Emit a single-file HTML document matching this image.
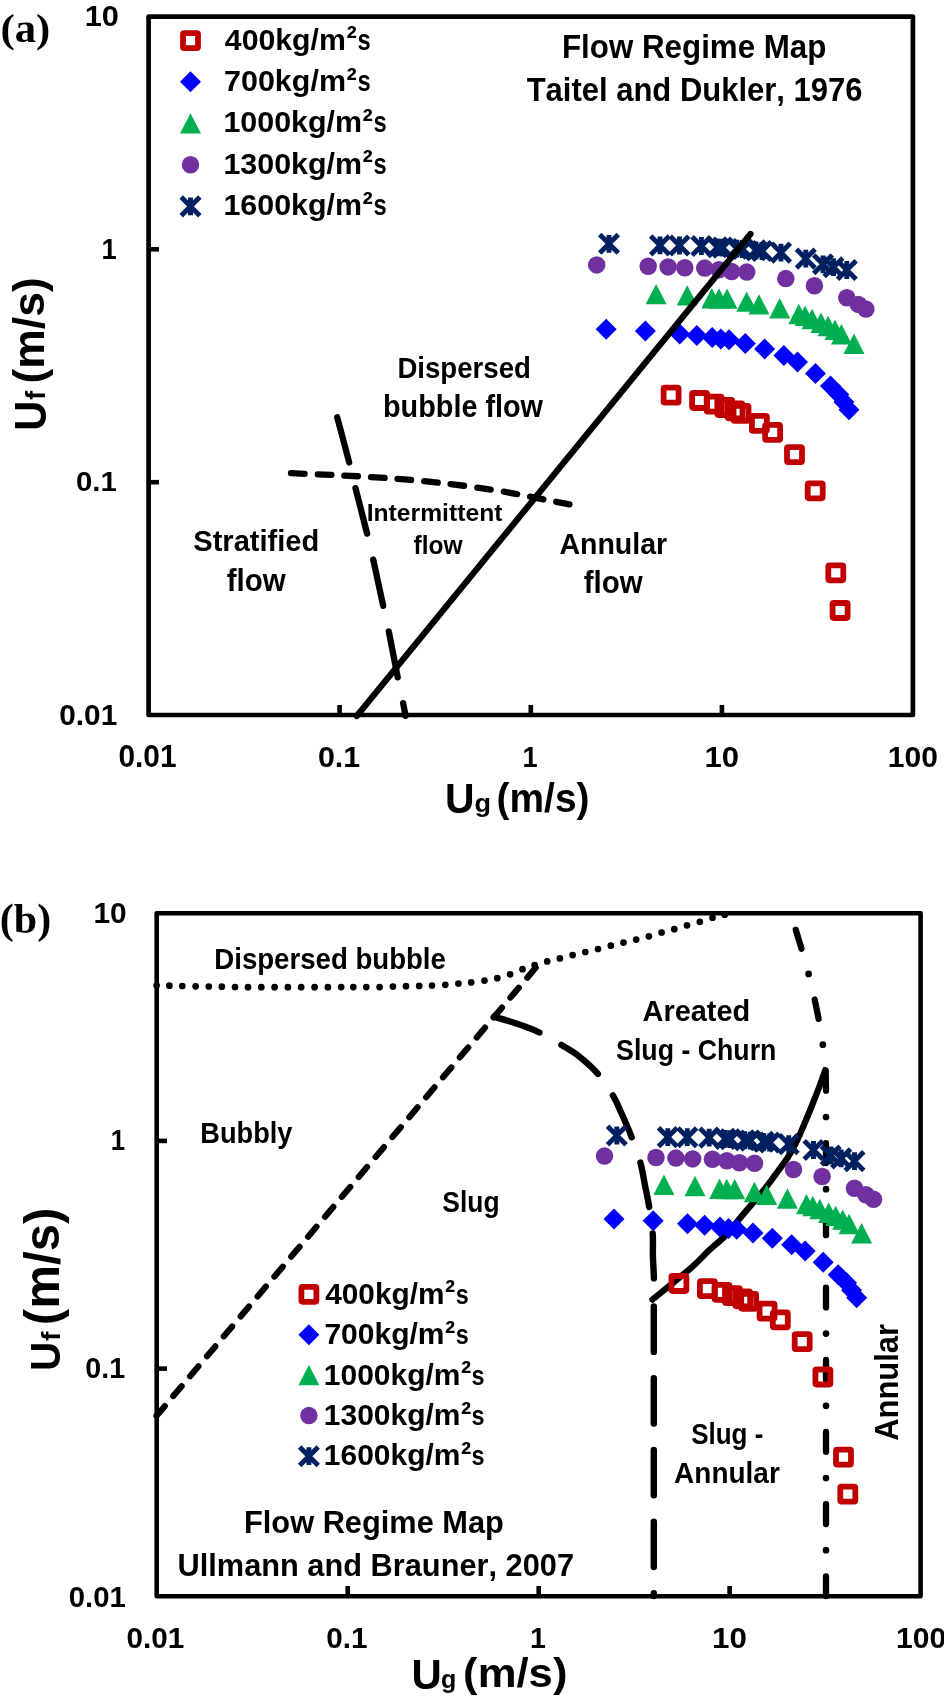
<!DOCTYPE html>
<html><head><meta charset="utf-8"><style>
html,body{margin:0;padding:0;background:#fff;}
svg{display:block;-webkit-font-smoothing:antialiased;will-change:transform;}
text{font-family:"Liberation Sans", sans-serif;font-weight:bold;fill:#000;font-kerning:none;}
</style></head><body>
<svg width="944" height="1703" viewBox="0 0 944 1703">

<defs>
<rect id="msq" x="-7.5" y="-7.5" width="15" height="15" rx="1.2" fill="none" stroke="#C00000" stroke-width="5.8"/>
<path id="mdi" d="M0,-10.5 L10.5,0 L0,10.5 L-10.5,0Z" fill="#0000FF"/>
<path id="mtr" d="M0,-10.2 L10.5,10.2 L-10.5,10.2Z" fill="#00B050"/>
<circle id="mci" r="8.75" fill="#7030A0"/>
<path id="mst" d="M-9.3,-9.3 L9.3,9.3 M9.3,-9.3 L-9.3,9.3 M0,-8.9 L0,8.9" stroke="#002060" stroke-width="4.9" fill="none"/>
</defs>

<g id="pa">
<rect x="148.6" y="16.6" width="764.3" height="698.4" fill="none" stroke="#000" stroke-width="4.7" stroke-linejoin="round"/>
<line x1="339.6" y1="715" x2="339.6" y2="705" stroke="#000" stroke-width="4.6"/>
<line x1="530.8" y1="715" x2="530.8" y2="705" stroke="#000" stroke-width="4.6"/>
<line x1="721.9" y1="715" x2="721.9" y2="705" stroke="#000" stroke-width="4.6"/>
<line x1="148.5" y1="249.3" x2="159" y2="249.3" stroke="#000" stroke-width="4.6"/>
<line x1="148.5" y1="482.2" x2="159" y2="482.2" stroke="#000" stroke-width="4.6"/>
<path d="M337.2,417.2 C339.2,424.75 346.15,450.68 349.2,462.5 M355.5,488.1 C358.48,499.95 364.15,521.7 367.1,533.6 M373.2,559.5 C375.88,571.55 380.6,593.92 383.2,605.9 M388.8,631.4 C391.22,643.3 395.32,665.33 397.7,677.3 M403.1,703.2 C404.42,709.65 405.18,713.87 405.6,716" fill="none" stroke="#000" stroke-width="6.3" stroke-linecap="round"/>
<path d="M291.01,473.22 L304.59,473.78 M317.81,474.29 L331.39,474.91 M344.31,475.53 L357.89,476.27 M371.01,477.05 L384.59,477.95 M397.52,478.84 L411.08,479.96 M424.24,481.2 L437.76,482.6 M450.55,484.05 L464.05,485.75 M477.28,487.59 L490.72,489.61 M503.71,491.71 L517.09,494.09 M530.03,496.7 L543.37,499.3 M556.13,501.8 L569.47,504.4" fill="none" stroke="#000" stroke-width="6.3" stroke-linecap="round"/>
<use href="#msq" x="671.1" y="395.1"/>
<use href="#msq" x="699.6" y="400.5"/>
<use href="#msq" x="714.2" y="404.1"/>
<use href="#msq" x="724.8" y="407.5"/>
<use href="#msq" x="735" y="410.8"/>
<use href="#msq" x="741" y="413.4"/>
<use href="#msq" x="759.4" y="423.4"/>
<use href="#msq" x="772.6" y="432.4"/>
<use href="#msq" x="794.5" y="454.6"/>
<use href="#msq" x="815.2" y="490.8"/>
<use href="#msq" x="835.8" y="572.8"/>
<use href="#msq" x="840.1" y="610.5"/>
<use href="#mdi" x="606.2" y="329.3"/>
<use href="#mdi" x="645.4" y="331"/>
<use href="#mdi" x="679.7" y="334"/>
<use href="#mdi" x="696.8" y="335.5"/>
<use href="#mdi" x="712.2" y="337.4"/>
<use href="#mdi" x="720.8" y="338.9"/>
<use href="#mdi" x="729" y="339.7"/>
<use href="#mdi" x="745.3" y="343.4"/>
<use href="#mdi" x="764.6" y="348.9"/>
<use href="#mdi" x="783.9" y="355.6"/>
<use href="#mdi" x="797.5" y="362"/>
<use href="#mdi" x="815.5" y="373.4"/>
<use href="#mdi" x="830.5" y="386.1"/>
<use href="#mdi" x="838.8" y="394.4"/>
<use href="#mdi" x="843.9" y="402"/>
<use href="#mdi" x="849" y="409.7"/>
<use href="#mtr" x="656.1" y="294.1"/>
<use href="#mtr" x="687.2" y="295.4"/>
<use href="#mtr" x="711.8" y="298.3"/>
<use href="#mtr" x="719" y="298.5"/>
<use href="#mtr" x="727" y="298.6"/>
<use href="#mtr" x="746.7" y="301.6"/>
<use href="#mtr" x="759" y="304.4"/>
<use href="#mtr" x="779.7" y="308.2"/>
<use href="#mtr" x="798.8" y="314"/>
<use href="#mtr" x="805.1" y="315.9"/>
<use href="#mtr" x="812.1" y="319"/>
<use href="#mtr" x="821" y="322.8"/>
<use href="#mtr" x="828" y="326"/>
<use href="#mtr" x="835" y="329.8"/>
<use href="#mtr" x="841.4" y="334.3"/>
<use href="#mtr" x="854" y="343.8"/>
<use href="#mci" x="596.7" y="264.9"/>
<use href="#mci" x="648.2" y="266.3"/>
<use href="#mci" x="668.1" y="266.9"/>
<use href="#mci" x="684.8" y="267.7"/>
<use href="#mci" x="704.7" y="268.1"/>
<use href="#mci" x="719" y="269.7"/>
<use href="#mci" x="731.7" y="271.6"/>
<use href="#mci" x="746.8" y="272.1"/>
<use href="#mci" x="785.8" y="278.6"/>
<use href="#mci" x="814.4" y="285.7"/>
<use href="#mci" x="846.8" y="297.7"/>
<use href="#mci" x="858.3" y="304.4"/>
<use href="#mci" x="865.9" y="309.1"/>
<use href="#mst" x="609" y="243.8"/>
<use href="#mst" x="660" y="245.4"/>
<use href="#mst" x="679.5" y="245.5"/>
<use href="#mst" x="701.4" y="246"/>
<use href="#mst" x="717.5" y="247.3"/>
<use href="#mst" x="722.5" y="247.6"/>
<use href="#mst" x="737" y="248.6"/>
<use href="#mst" x="742.5" y="249"/>
<use href="#mst" x="756" y="250.3"/>
<use href="#mst" x="762" y="251"/>
<use href="#mst" x="781" y="252.6"/>
<use href="#mst" x="805.8" y="258.6"/>
<use href="#mst" x="823" y="264.3"/>
<use href="#mst" x="833.5" y="267.2"/>
<use href="#mst" x="846.8" y="270"/>
<line x1="356.8" y1="716" x2="750.5" y2="234" stroke="#000" stroke-width="6.2" stroke-linecap="round"/>
</g>
<g id="pb">
<rect x="156.7" y="913.2" width="763.9" height="683.1" fill="none" stroke="#000" stroke-width="4.6" stroke-linejoin="round"/>
<line x1="347.7" y1="1596.3" x2="347.7" y2="1586" stroke="#000" stroke-width="4.6"/>
<line x1="538.7" y1="1596.3" x2="538.7" y2="1586" stroke="#000" stroke-width="4.6"/>
<line x1="729.6" y1="1596.3" x2="729.6" y2="1586" stroke="#000" stroke-width="4.6"/>
<line x1="156.7" y1="1140.9" x2="167" y2="1140.9" stroke="#000" stroke-width="4.6"/>
<line x1="156.7" y1="1368.6" x2="167" y2="1368.6" stroke="#000" stroke-width="4.6"/>
<g fill="#000"><circle cx="156.6" cy="985.4" r="3.35"/><circle cx="169.4" cy="985.7" r="3.35"/><circle cx="182.3" cy="986" r="3.35"/><circle cx="195.6" cy="986.3" r="3.35"/><circle cx="208.8" cy="986.5" r="3.35"/><circle cx="221.8" cy="986.7" r="3.35"/><circle cx="235" cy="987" r="3.35"/><circle cx="248" cy="987.2" r="3.35"/><circle cx="261.3" cy="987.2" r="3.35"/><circle cx="274.6" cy="987.2" r="3.35"/><circle cx="287.9" cy="987.2" r="3.35"/><circle cx="301.2" cy="987.2" r="3.35"/><circle cx="314.6" cy="987.2" r="3.35"/><circle cx="327.9" cy="987.2" r="3.35"/><circle cx="341.2" cy="987.1" r="3.35"/><circle cx="353.3" cy="987.1" r="3.35"/><circle cx="366.3" cy="987.1" r="3.35"/><circle cx="379.6" cy="987.1" r="3.35"/><circle cx="392.9" cy="986.6" r="3.35"/><circle cx="406" cy="986.2" r="3.35"/><circle cx="419.2" cy="985.9" r="3.35"/><circle cx="432" cy="985.5" r="3.35"/><circle cx="445.3" cy="984.8" r="3.35"/><circle cx="458.4" cy="983.6" r="3.35"/><circle cx="471.2" cy="982.4" r="3.35"/><circle cx="484.5" cy="980.6" r="3.35"/><circle cx="497.3" cy="978.2" r="3.35"/><circle cx="510.1" cy="974.3" r="3.35"/><circle cx="522.5" cy="969.2" r="3.35"/><circle cx="534.6" cy="965" r="3.35"/><circle cx="547.2" cy="961.4" r="3.35"/><circle cx="559.9" cy="958.4" r="3.35"/><circle cx="572.6" cy="955.1" r="3.35"/><circle cx="585.3" cy="952" r="3.35"/><circle cx="598" cy="949" r="3.35"/><circle cx="610.8" cy="945.7" r="3.35"/><circle cx="623.5" cy="942.6" r="3.35"/><circle cx="636.2" cy="939.6" r="3.35"/><circle cx="648.9" cy="936.3" r="3.35"/><circle cx="661.6" cy="932.5" r="3.35"/><circle cx="674.3" cy="929.2" r="3.35"/><circle cx="687" cy="925.3" r="3.35"/><circle cx="699.8" cy="921.8" r="3.35"/><circle cx="712.5" cy="917.7" r="3.35"/><circle cx="724.7" cy="914.7" r="3.35"/></g>
<path d="M156.4,1416 L538,965" fill="none" stroke="#000" stroke-width="6.2" stroke-linecap="round" stroke-dasharray="12.9 13.2"/>
<path d="M493.95,1016.7 C497.04,1017.62 507.11,1020.48 512.5,1022.2 C517.89,1023.92 521.82,1025.28 526.3,1027 C530.78,1028.72 533.55,1029.52 539.4,1032.5 M561.4,1044.9 C567.93,1048.82 572.52,1051.17 578.6,1056 C584.68,1060.83 592.18,1067.33 597.9,1073.9 M612.9,1095.4 C616.83,1101.97 618.37,1106.32 621.5,1113.3 C624.63,1120.28 628.55,1129.08 631.7,1137.3 M640.4,1162.6 C642.6,1170.52 643.43,1177.42 644.9,1184.8 C646.37,1192.18 647.9,1198.8 649.2,1206.9 M652.7,1233.4 C653.32,1241.62 652.7,1248.7 652.9,1256.2 C653.1,1263.7 653.75,1270.02 653.9,1278.4 M653.8,1306.5 L653.8,1351.9 M653.8,1378.2 L653.8,1423.6 M653.8,1449.9 L653.8,1495.3 M653.8,1521.6 L653.8,1567 M653.8,1593.3 L653.8,1596" fill="none" stroke="#000" stroke-width="6.4" stroke-linecap="round"/>
<path d="M652.4,1299.6 C658.85,1294.3 681.73,1275.93 691.1,1267.8 C700.47,1259.67 702.95,1256.1 708.6,1250.8 C714.25,1245.5 719.45,1241.82 725,1236 C730.55,1230.18 735.25,1223.78 741.9,1215.9 C748.55,1208.02 759.03,1195.97 764.9,1188.7 C770.77,1181.43 773.3,1177.5 777.1,1172.3 C780.9,1167.1 784.53,1162.45 787.7,1157.5 C790.87,1152.55 793.45,1147.9 796.1,1142.6 C798.75,1137.3 800.95,1131.88 803.6,1125.7 C806.25,1119.52 809.37,1112.03 812,1105.5 C814.63,1098.97 817.18,1092.4 819.4,1086.5 C821.62,1080.6 824.32,1072.83 825.3,1070.1" fill="none" stroke="#000" stroke-width="6.3" stroke-linecap="round" stroke-linejoin="round"/>
<path d="M795.7,929.7 L801.5,948.7 M814.7,999.5 L818.6,1018.8 M825.7,1070.9 L826,1090.7 M826,1143.2 L826,1163 M826,1215.4 L826,1235.2 M826,1287.6 L826,1307.4 M826,1359.8 L826,1379.6 M826,1432 L826,1451.8 M826,1504.2 L826,1524 M826,1576.4 L826,1596" fill="none" stroke="#000" stroke-width="6.3" stroke-linecap="round"/>
<g fill="#000"><circle cx="808.6" cy="973.9" r="3.35"/><circle cx="822.8" cy="1044.7" r="3.35"/><circle cx="826" cy="1117" r="3.35"/><circle cx="826" cy="1189.2" r="3.35"/><circle cx="826" cy="1261.4" r="3.35"/><circle cx="826" cy="1333.6" r="3.35"/><circle cx="826" cy="1405.8" r="3.35"/><circle cx="826" cy="1478" r="3.35"/><circle cx="826" cy="1550.2" r="3.35"/></g>
<use href="#msq" x="678.9" y="1283.5"/>
<use href="#msq" x="707.4" y="1288.7"/>
<use href="#msq" x="722" y="1292.3"/>
<use href="#msq" x="732.5" y="1295.6"/>
<use href="#msq" x="742.7" y="1298.8"/>
<use href="#msq" x="748.7" y="1301.3"/>
<use href="#msq" x="767.1" y="1311.1"/>
<use href="#msq" x="780.3" y="1319.9"/>
<use href="#msq" x="802.2" y="1341.6"/>
<use href="#msq" x="822.9" y="1377"/>
<use href="#msq" x="843.5" y="1457.2"/>
<use href="#msq" x="847.8" y="1494.1"/>
<use href="#mdi" x="614" y="1219.1"/>
<use href="#mdi" x="653.2" y="1220.8"/>
<use href="#mdi" x="687.5" y="1223.7"/>
<use href="#mdi" x="704.6" y="1225.2"/>
<use href="#mdi" x="720" y="1227"/>
<use href="#mdi" x="728.6" y="1228.5"/>
<use href="#mdi" x="736.7" y="1229.3"/>
<use href="#mdi" x="753" y="1232.9"/>
<use href="#mdi" x="772.3" y="1238.3"/>
<use href="#mdi" x="791.6" y="1244.8"/>
<use href="#mdi" x="805.2" y="1251.1"/>
<use href="#mdi" x="823.2" y="1262.2"/>
<use href="#mdi" x="838.2" y="1274.7"/>
<use href="#mdi" x="846.5" y="1282.8"/>
<use href="#mdi" x="851.6" y="1290.2"/>
<use href="#mdi" x="856.7" y="1297.7"/>
<use href="#mtr" x="663.9" y="1184.7"/>
<use href="#mtr" x="695" y="1186"/>
<use href="#mtr" x="719.6" y="1188.8"/>
<use href="#mtr" x="726.8" y="1189"/>
<use href="#mtr" x="734.7" y="1189.1"/>
<use href="#mtr" x="754.4" y="1192"/>
<use href="#mtr" x="766.7" y="1194.8"/>
<use href="#mtr" x="787.4" y="1198.5"/>
<use href="#mtr" x="806.5" y="1204.1"/>
<use href="#mtr" x="812.8" y="1206"/>
<use href="#mtr" x="819.8" y="1209"/>
<use href="#mtr" x="828.7" y="1212.7"/>
<use href="#mtr" x="835.7" y="1215.9"/>
<use href="#mtr" x="842.7" y="1219.6"/>
<use href="#mtr" x="849.1" y="1224"/>
<use href="#mtr" x="861.6" y="1233.3"/>
<use href="#mci" x="604.5" y="1156.1"/>
<use href="#mci" x="656" y="1157.5"/>
<use href="#mci" x="675.9" y="1158.1"/>
<use href="#mci" x="692.6" y="1158.9"/>
<use href="#mci" x="712.5" y="1159.3"/>
<use href="#mci" x="726.8" y="1160.8"/>
<use href="#mci" x="739.4" y="1162.7"/>
<use href="#mci" x="754.5" y="1163.2"/>
<use href="#mci" x="793.5" y="1169.5"/>
<use href="#mci" x="822.1" y="1176.5"/>
<use href="#mci" x="854.5" y="1188.2"/>
<use href="#mci" x="865.9" y="1194.8"/>
<use href="#mci" x="873.5" y="1199.3"/>
<use href="#mst" x="616.8" y="1135.5"/>
<use href="#mst" x="667.8" y="1137.1"/>
<use href="#mst" x="687.3" y="1137.2"/>
<use href="#mst" x="709.2" y="1137.6"/>
<use href="#mst" x="725.3" y="1138.9"/>
<use href="#mst" x="730.2" y="1139.2"/>
<use href="#mst" x="744.7" y="1140.2"/>
<use href="#mst" x="750.2" y="1140.6"/>
<use href="#mst" x="763.7" y="1141.8"/>
<use href="#mst" x="769.7" y="1142.5"/>
<use href="#mst" x="788.7" y="1144.1"/>
<use href="#mst" x="813.5" y="1150"/>
<use href="#mst" x="830.7" y="1155.5"/>
<use href="#mst" x="841.2" y="1158.4"/>
<use href="#mst" x="854.5" y="1161.1"/>
</g>
<g id="tx">
<text x="0.5" y="41.9" font-size="39.92" textLength="49.86" lengthAdjust="spacingAndGlyphs" style="font-family:'Liberation Serif', serif">(a)</text>
<text x="-0.2" y="932.8" font-size="41.14" textLength="51.40" lengthAdjust="spacingAndGlyphs" style="font-family:'Liberation Serif', serif">(b)</text>
<text x="84.7" y="26.2" font-size="29.50" textLength="34.20" lengthAdjust="spacingAndGlyphs">10</text>
<text x="101.6" y="259.4" font-size="30.09" textLength="15.18" lengthAdjust="spacingAndGlyphs">1</text>
<text x="75.9" y="491.4" font-size="28.50" textLength="40.88" lengthAdjust="spacingAndGlyphs">0.1</text>
<text x="59.3" y="725" font-size="30.08" textLength="57.90" lengthAdjust="spacingAndGlyphs">0.01</text>
<text x="118.4" y="767.4" font-size="30.65" textLength="58.11" lengthAdjust="spacingAndGlyphs">0.01</text>
<text x="317.9" y="767" font-size="29.36" textLength="42.25" lengthAdjust="spacingAndGlyphs">0.1</text>
<text x="522.6" y="767" font-size="28.78" textLength="15.18" lengthAdjust="spacingAndGlyphs">1</text>
<text x="704.6" y="767" font-size="29.22" textLength="34.53" lengthAdjust="spacingAndGlyphs">10</text>
<text x="887.8" y="767" font-size="29.22" textLength="50.12" lengthAdjust="spacingAndGlyphs">100</text>
<text x="93.4" y="922.6" font-size="29.65" textLength="33.32" lengthAdjust="spacingAndGlyphs">10</text>
<text x="110.7" y="1149.8" font-size="29.51" textLength="14.34" lengthAdjust="spacingAndGlyphs">1</text>
<text x="85.3" y="1377.9" font-size="29.07" textLength="39.83" lengthAdjust="spacingAndGlyphs">0.1</text>
<text x="68.7" y="1606.5" font-size="30.08" textLength="57.08" lengthAdjust="spacingAndGlyphs">0.01</text>
<text x="126.6" y="1648.1" font-size="29.79" textLength="57.80" lengthAdjust="spacingAndGlyphs">0.01</text>
<text x="326.2" y="1648.1" font-size="29.79" textLength="41.20" lengthAdjust="spacingAndGlyphs">0.1</text>
<text x="529.9" y="1648" font-size="29.36" textLength="15.90" lengthAdjust="spacingAndGlyphs">1</text>
<text x="712.1" y="1648.1" font-size="29.79" textLength="34.86" lengthAdjust="spacingAndGlyphs">10</text>
<text x="896.1" y="1648.1" font-size="30.08" textLength="50.12" lengthAdjust="spacingAndGlyphs">100</text>
<text x="445.1" y="813.1" font-size="43.02" textLength="29.56" lengthAdjust="spacingAndGlyphs">U</text>
<text x="474.5" y="812.1" font-size="24.92" textLength="16.52" lengthAdjust="spacingAndGlyphs">g</text>
<text x="496.6" y="811.6" font-size="40.02" textLength="92.87" lengthAdjust="spacingAndGlyphs">(m/s)</text>
<text x="411.5" y="1688.7" font-size="43.17" textLength="30.28" lengthAdjust="spacingAndGlyphs">U</text>
<text x="440.9" y="1687.9" font-size="25.18" textLength="15.30" lengthAdjust="spacingAndGlyphs">g</text>
<text x="463.1" y="1687.3" font-size="41.52" textLength="104.35" lengthAdjust="spacingAndGlyphs">(m/s)</text>
<text transform="rotate(-90)" x="-430.7" y="45.9" font-size="44.91" textLength="29.92" lengthAdjust="spacingAndGlyphs">U</text>
<text transform="rotate(-90)" x="-399.8" y="44.9" font-size="26.77" textLength="8.90" lengthAdjust="spacingAndGlyphs">f</text>
<text transform="rotate(-90)" x="-383.5" y="43.8" font-size="43.88" textLength="106.23" lengthAdjust="spacingAndGlyphs">(m/s)</text>
<text transform="rotate(-90)" x="-1371.1" y="59.7" font-size="43.02" textLength="29.32" lengthAdjust="spacingAndGlyphs">U</text>
<text transform="rotate(-90)" x="-1341.1" y="59.7" font-size="26.22" textLength="9.43" lengthAdjust="spacingAndGlyphs">f</text>
<text transform="rotate(-90)" x="-1325.2" y="58.5" font-size="49.35" textLength="117.60" lengthAdjust="spacingAndGlyphs">(m/s)</text>
<text transform="rotate(-90)" x="-1440.7" y="898" font-size="32.57" textLength="116.74" lengthAdjust="spacingAndGlyphs">Annular</text>
<use href="#msq" x="190.5" y="40.6"/>
<text x="224.8" y="49.7" font-size="29.51" textLength="121.13" lengthAdjust="spacingAndGlyphs">400kg/m</text>
<text x="346.4" y="50.4" font-size="34.41" textLength="10.32" lengthAdjust="spacingAndGlyphs">²</text>
<text x="357.4" y="49.7" font-size="28.59" textLength="13.21" lengthAdjust="spacingAndGlyphs">s</text>
<use href="#mdi" x="190.5" y="81.8"/>
<text x="224" y="91.1" font-size="29.51" textLength="122.00" lengthAdjust="spacingAndGlyphs">700kg/m</text>
<text x="346.4" y="91.7" font-size="34.41" textLength="10.32" lengthAdjust="spacingAndGlyphs">²</text>
<text x="357.4" y="91.1" font-size="28.59" textLength="13.21" lengthAdjust="spacingAndGlyphs">s</text>
<use href="#mtr" x="190.5" y="123.4"/>
<text x="223.4" y="132.4" font-size="29.51" textLength="138.70" lengthAdjust="spacingAndGlyphs">1000kg/m</text>
<text x="362.5" y="133.1" font-size="34.41" textLength="10.32" lengthAdjust="spacingAndGlyphs">²</text>
<text x="373.5" y="132.4" font-size="28.59" textLength="13.21" lengthAdjust="spacingAndGlyphs">s</text>
<use href="#mci" x="190.5" y="164.8"/>
<text x="223.4" y="173.8" font-size="29.51" textLength="138.70" lengthAdjust="spacingAndGlyphs">1300kg/m</text>
<text x="362.5" y="174.4" font-size="34.41" textLength="10.32" lengthAdjust="spacingAndGlyphs">²</text>
<text x="373.5" y="173.8" font-size="28.59" textLength="13.21" lengthAdjust="spacingAndGlyphs">s</text>
<use href="#mst" x="190.5" y="206.4"/>
<text x="223.4" y="215.1" font-size="29.51" textLength="138.70" lengthAdjust="spacingAndGlyphs">1600kg/m</text>
<text x="362.5" y="215.8" font-size="34.41" textLength="10.32" lengthAdjust="spacingAndGlyphs">²</text>
<text x="373.5" y="215.1" font-size="28.59" textLength="13.21" lengthAdjust="spacingAndGlyphs">s</text>
<use href="#msq" x="308.9" y="1294.3"/>
<text x="325.2" y="1303.7" font-size="29.06" textLength="119.32" lengthAdjust="spacingAndGlyphs">400kg/m</text>
<text x="445" y="1304.4" font-size="33.90" textLength="10.17" lengthAdjust="spacingAndGlyphs">²</text>
<text x="455.8" y="1303.7" font-size="28.17" textLength="13.01" lengthAdjust="spacingAndGlyphs">s</text>
<use href="#mdi" x="308.9" y="1334.7"/>
<text x="324.4" y="1344.1" font-size="29.06" textLength="120.17" lengthAdjust="spacingAndGlyphs">700kg/m</text>
<text x="445" y="1344.8" font-size="33.90" textLength="10.17" lengthAdjust="spacingAndGlyphs">²</text>
<text x="455.8" y="1344.1" font-size="28.17" textLength="13.01" lengthAdjust="spacingAndGlyphs">s</text>
<use href="#mtr" x="308.9" y="1375.1"/>
<text x="323.8" y="1384.5" font-size="29.06" textLength="136.62" lengthAdjust="spacingAndGlyphs">1000kg/m</text>
<text x="460.9" y="1385.2" font-size="33.90" textLength="10.17" lengthAdjust="spacingAndGlyphs">²</text>
<text x="471.6" y="1384.5" font-size="28.17" textLength="13.01" lengthAdjust="spacingAndGlyphs">s</text>
<use href="#mci" x="308.9" y="1415.6"/>
<text x="323.8" y="1424.9" font-size="29.06" textLength="136.62" lengthAdjust="spacingAndGlyphs">1300kg/m</text>
<text x="460.9" y="1425.6" font-size="33.90" textLength="10.17" lengthAdjust="spacingAndGlyphs">²</text>
<text x="471.6" y="1424.9" font-size="28.17" textLength="13.01" lengthAdjust="spacingAndGlyphs">s</text>
<use href="#mst" x="308.9" y="1456.2"/>
<text x="323.8" y="1465.3" font-size="29.06" textLength="136.62" lengthAdjust="spacingAndGlyphs">1600kg/m</text>
<text x="460.9" y="1466" font-size="33.90" textLength="10.17" lengthAdjust="spacingAndGlyphs">²</text>
<text x="471.6" y="1465.3" font-size="28.17" textLength="13.01" lengthAdjust="spacingAndGlyphs">s</text>
<text x="562" y="57.8" font-size="32.70" textLength="264.38" lengthAdjust="spacingAndGlyphs">Flow Regime Map</text>
<text x="526.7" y="100.5" font-size="32.70" textLength="335.77" lengthAdjust="spacingAndGlyphs">Taitel and Dukler, 1976</text>
<text x="397.4" y="377.8" font-size="29.94" textLength="133.47" lengthAdjust="spacingAndGlyphs">Dispersed</text>
<text x="383" y="416.8" font-size="30.64" textLength="160.04" lengthAdjust="spacingAndGlyphs">bubble flow</text>
<text x="193.3" y="550.8" font-size="29.94" textLength="125.95" lengthAdjust="spacingAndGlyphs">Stratified</text>
<text x="226.7" y="590.7" font-size="30.64" textLength="58.95" lengthAdjust="spacingAndGlyphs">flow</text>
<text x="366.7" y="520.5" font-size="23.69" textLength="135.75" lengthAdjust="spacingAndGlyphs">Intermittent</text>
<text x="413.5" y="553.9" font-size="25.25" textLength="48.97" lengthAdjust="spacingAndGlyphs">flow</text>
<text x="559.4" y="553.8" font-size="30.09" textLength="107.84" lengthAdjust="spacingAndGlyphs">Annular</text>
<text x="583.7" y="592.7" font-size="30.64" textLength="59.05" lengthAdjust="spacingAndGlyphs">flow</text>
<text x="214.3" y="968.8" font-size="29.51" textLength="231.59" lengthAdjust="spacingAndGlyphs">Dispersed bubble</text>
<text x="642.5" y="1020.8" font-size="29.36" textLength="107.73" lengthAdjust="spacingAndGlyphs">Areated</text>
<text x="616.1" y="1059.5" font-size="29.51" textLength="160.33" lengthAdjust="spacingAndGlyphs">Slug - Churn</text>
<text x="200.3" y="1142.8" font-size="29.22" textLength="92.17" lengthAdjust="spacingAndGlyphs">Bubbly</text>
<text x="442.3" y="1211.8" font-size="30.23" textLength="57.23" lengthAdjust="spacingAndGlyphs">Slug</text>
<text x="691.2" y="1443.8" font-size="29.80" textLength="72.19" lengthAdjust="spacingAndGlyphs">Slug -</text>
<text x="674.1" y="1482.7" font-size="30.23" textLength="105.72" lengthAdjust="spacingAndGlyphs">Annular</text>
<text x="244" y="1532.8" font-size="31.83" textLength="259.92" lengthAdjust="spacingAndGlyphs">Flow Regime Map</text>
<text x="177.5" y="1575.5" font-size="31.83" textLength="396.50" lengthAdjust="spacingAndGlyphs">Ullmann and Brauner, 2007</text>
</g>
</svg>
</body></html>
